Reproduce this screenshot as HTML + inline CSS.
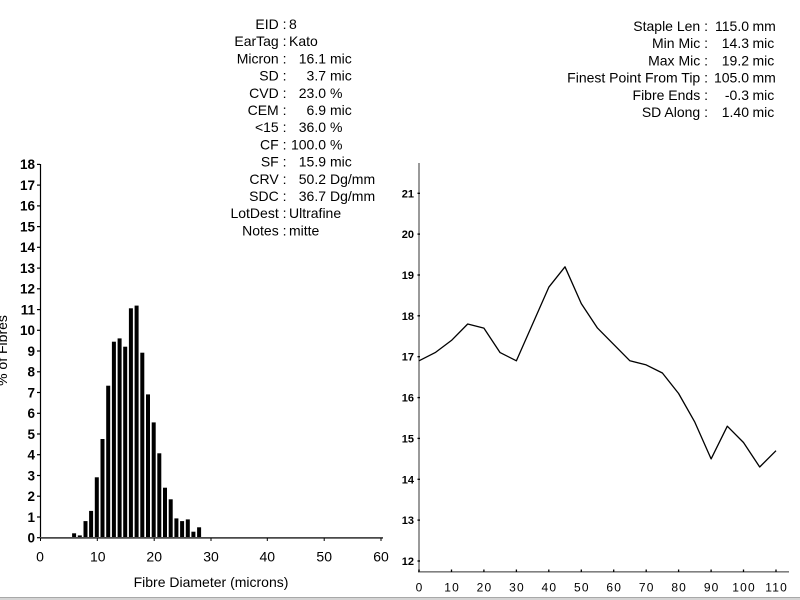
<!DOCTYPE html>
<html>
<head>
<meta charset="utf-8">
<style>
html,body{margin:0;padding:0;background:#fff;}
svg{display:block;}
text{font-family:"Liberation Sans",Arial,sans-serif;fill:#000;}
</style>
</head>
<body>
<svg width="800" height="600" viewBox="0 0 800 600" xmlns="http://www.w3.org/2000/svg">
<rect width="800" height="600" fill="#fff"/>

<!-- Left info block -->
<g font-size="14">
  <g text-anchor="end">
    <text x="286.5" y="29">EID :</text>
    <text x="286.5" y="46.2">EarTag :</text>
    <text x="286.5" y="63.4">Micron :</text>
    <text x="286.5" y="80.6">SD :</text>
    <text x="286.5" y="97.8">CVD :</text>
    <text x="286.5" y="115">CEM :</text>
    <text x="286.5" y="132.2">&lt;15 :</text>
    <text x="286.5" y="149.4">CF :</text>
    <text x="286.5" y="166.6">SF :</text>
    <text x="286.5" y="183.8">CRV :</text>
    <text x="286.5" y="201">SDC :</text>
    <text x="286.5" y="218.2">LotDest :</text>
    <text x="286.5" y="235.4">Notes :</text>
  </g>
  <text x="289" y="29">8</text>
  <text x="289" y="46.2">Kato</text>
  <text x="289" y="218.2">Ultrafine</text>
  <text x="289" y="235.4">mitte</text>
  <g text-anchor="end">
    <text x="326" y="63.4">16.1</text>
    <text x="326" y="80.6">3.7</text>
    <text x="326" y="97.8">23.0</text>
    <text x="326" y="115">6.9</text>
    <text x="326" y="132.2">36.0</text>
    <text x="326" y="149.4">100.0</text>
    <text x="326" y="166.6">15.9</text>
    <text x="326" y="183.8">50.2</text>
    <text x="326" y="201">36.7</text>
  </g>
  <text x="330" y="63.4">mic</text>
  <text x="330" y="80.6">mic</text>
  <text x="330" y="97.8">%</text>
  <text x="330" y="115">mic</text>
  <text x="330" y="132.2">%</text>
  <text x="330" y="149.4">%</text>
  <text x="330" y="166.6">mic</text>
  <text x="330" y="183.8">Dg/mm</text>
  <text x="330" y="201">Dg/mm</text>
</g>

<!-- Right info block -->
<g font-size="14">
  <g text-anchor="end">
    <text x="708" y="31">Staple Len :</text>
    <text x="708" y="48.2">Min Mic :</text>
    <text x="708" y="65.4">Max Mic :</text>
    <text x="708" y="82.6">Finest Point From Tip :</text>
    <text x="708" y="99.8">Fibre Ends :</text>
    <text x="708" y="117">SD Along :</text>
    <text x="749" y="31">115.0</text>
    <text x="749" y="48.2">14.3</text>
    <text x="749" y="65.4">19.2</text>
    <text x="749" y="82.6">105.0</text>
    <text x="749" y="99.8">-0.3</text>
    <text x="749" y="117">1.40</text>
  </g>
  <text x="752.5" y="31">mm</text>
  <text x="752.5" y="48.2">mic</text>
  <text x="752.5" y="65.4">mic</text>
  <text x="752.5" y="82.6">mm</text>
  <text x="752.5" y="99.8">mic</text>
  <text x="752.5" y="117">mic</text>
</g>

<!-- Left chart: histogram -->
<g>
  <line x1="40.5" y1="164" x2="40.5" y2="538" stroke="#000" stroke-width="1.2"/>
  <g stroke="#000" stroke-width="1.2">
    <line x1="37" y1="537.7" x2="40" y2="537.7"/>
    <line x1="37" y1="517" x2="40" y2="517"/>
    <line x1="37" y1="496.2" x2="40" y2="496.2"/>
    <line x1="37" y1="475.5" x2="40" y2="475.5"/>
    <line x1="37" y1="454.7" x2="40" y2="454.7"/>
    <line x1="37" y1="434" x2="40" y2="434"/>
    <line x1="37" y1="413.3" x2="40" y2="413.3"/>
    <line x1="37" y1="392.5" x2="40" y2="392.5"/>
    <line x1="37" y1="371.8" x2="40" y2="371.8"/>
    <line x1="37" y1="351" x2="40" y2="351"/>
    <line x1="37" y1="330.3" x2="40" y2="330.3"/>
    <line x1="37" y1="309.6" x2="40" y2="309.6"/>
    <line x1="37" y1="288.8" x2="40" y2="288.8"/>
    <line x1="37" y1="268.1" x2="40" y2="268.1"/>
    <line x1="37" y1="247.3" x2="40" y2="247.3"/>
    <line x1="37" y1="226.6" x2="40" y2="226.6"/>
    <line x1="37" y1="205.9" x2="40" y2="205.9"/>
    <line x1="37" y1="185.1" x2="40" y2="185.1"/>
    <line x1="37" y1="164.4" x2="40" y2="164.4"/>
  </g>
  <g font-size="13.5" font-weight="bold" text-anchor="end">
    <text x="35" y="542.5">0</text>
    <text x="35" y="521.8">1</text>
    <text x="35" y="501">2</text>
    <text x="35" y="480.3">3</text>
    <text x="35" y="459.5">4</text>
    <text x="35" y="438.8">5</text>
    <text x="35" y="418.1">6</text>
    <text x="35" y="397.3">7</text>
    <text x="35" y="376.6">8</text>
    <text x="35" y="355.8">9</text>
    <text x="35" y="335.1">10</text>
    <text x="35" y="314.4">11</text>
    <text x="35" y="293.6">12</text>
    <text x="35" y="272.9">13</text>
    <text x="35" y="252.1">14</text>
    <text x="35" y="231.4">15</text>
    <text x="35" y="210.7">16</text>
    <text x="35" y="189.9">17</text>
    <text x="35" y="169.2">18</text>
  </g>
  <g fill="#000">
    <rect x="72.1" y="533.3" width="4" height="4.4"/>
    <rect x="77.8" y="535.4" width="4" height="2.3"/>
    <rect x="83.5" y="521.1" width="4" height="16.6"/>
    <rect x="89.1" y="510.9" width="4" height="26.8"/>
    <rect x="94.8" y="477.3" width="4" height="60.4"/>
    <rect x="100.5" y="439" width="4" height="98.7"/>
    <rect x="106.2" y="385.7" width="4" height="152"/>
    <rect x="111.9" y="341.7" width="4" height="196"/>
    <rect x="117.6" y="338.4" width="4" height="199.3"/>
    <rect x="123.2" y="346.7" width="4" height="191"/>
    <rect x="128.9" y="308.3" width="4" height="229.4"/>
    <rect x="134.6" y="305.6" width="4" height="232.1"/>
    <rect x="140.3" y="352.7" width="4" height="185"/>
    <rect x="146" y="394.4" width="4" height="143.3"/>
    <rect x="151.7" y="422.4" width="4" height="115.3"/>
    <rect x="157.3" y="453.3" width="4" height="84.4"/>
    <rect x="163" y="487.7" width="4" height="50"/>
    <rect x="168.7" y="499.3" width="4" height="38.4"/>
    <rect x="174.4" y="518.4" width="4" height="19.3"/>
    <rect x="180.1" y="521.1" width="4" height="16.6"/>
    <rect x="185.8" y="519.4" width="4" height="18.3"/>
    <rect x="191.4" y="531.7" width="4" height="6"/>
    <rect x="197.1" y="527.3" width="4" height="10.4"/>
  </g>
  <line x1="40" y1="537.9" x2="383" y2="537.9" stroke="#4a4a4a" stroke-width="1.8"/>
  <g stroke="#000" stroke-width="1">
    <line x1="40.5" y1="538" x2="40.5" y2="541"/>
    <line x1="97.3" y1="538" x2="97.3" y2="541"/>
    <line x1="154.2" y1="538" x2="154.2" y2="541"/>
    <line x1="211" y1="538" x2="211" y2="541"/>
    <line x1="267.3" y1="538" x2="267.3" y2="541"/>
    <line x1="324.2" y1="538" x2="324.2" y2="541"/>
    <line x1="381" y1="538" x2="381" y2="541"/>
  </g>
  <g font-size="14" text-anchor="middle">
    <text x="40" y="561.5">0</text>
    <text x="97.8" y="561.5">10</text>
    <text x="154.2" y="561.5">20</text>
    <text x="211" y="561.5">30</text>
    <text x="267.3" y="561.5">40</text>
    <text x="324.2" y="561.5">50</text>
    <text x="381" y="561.5">60</text>
  </g>
  <text x="211" y="587" font-size="14" text-anchor="middle">Fibre Diameter (microns)</text>
  <text transform="translate(7,350.5) rotate(-90)" font-size="14" text-anchor="middle">% of Fibres</text>
</g>

<!-- Right chart: line -->
<g>
  <line x1="419" y1="163" x2="419" y2="572" stroke="#808080" stroke-width="1.6"/>
  <line x1="418" y1="571.8" x2="789" y2="571.8" stroke="#808080" stroke-width="1.6"/>
  <g stroke="#000" stroke-width="1.3">
    <line x1="417.5" y1="561" x2="420" y2="561"/>
    <line x1="417.5" y1="520.1" x2="420" y2="520.1"/>
    <line x1="417.5" y1="479.3" x2="420" y2="479.3"/>
    <line x1="417.5" y1="438.4" x2="420" y2="438.4"/>
    <line x1="417.5" y1="397.6" x2="420" y2="397.6"/>
    <line x1="417.5" y1="356.7" x2="420" y2="356.7"/>
    <line x1="417.5" y1="315.8" x2="420" y2="315.8"/>
    <line x1="417.5" y1="275" x2="420" y2="275"/>
    <line x1="417.5" y1="234.1" x2="420" y2="234.1"/>
    <line x1="417.5" y1="193.3" x2="420" y2="193.3"/>
  </g>
  <g stroke="#000" stroke-width="1.3">
    <line x1="419" y1="569.5" x2="419" y2="572"/>
    <line x1="451.5" y1="569.5" x2="451.5" y2="572"/>
    <line x1="483.9" y1="569.5" x2="483.9" y2="572"/>
    <line x1="516.4" y1="569.5" x2="516.4" y2="572"/>
    <line x1="548.8" y1="569.5" x2="548.8" y2="572"/>
    <line x1="581.3" y1="569.5" x2="581.3" y2="572"/>
    <line x1="613.7" y1="569.5" x2="613.7" y2="572"/>
    <line x1="646.2" y1="569.5" x2="646.2" y2="572"/>
    <line x1="678.6" y1="569.5" x2="678.6" y2="572"/>
    <line x1="711.1" y1="569.5" x2="711.1" y2="572"/>
    <line x1="743.5" y1="569.5" x2="743.5" y2="572"/>
    <line x1="776" y1="569.5" x2="776" y2="572"/>
  </g>
  <g font-size="11" font-weight="bold" text-anchor="end">
    <text x="414" y="565">12</text>
    <text x="414" y="524.1">13</text>
    <text x="414" y="483.3">14</text>
    <text x="414" y="442.4">15</text>
    <text x="414" y="401.6">16</text>
    <text x="414" y="360.7">17</text>
    <text x="414" y="319.8">18</text>
    <text x="414" y="279">19</text>
    <text x="414" y="238.1">20</text>
    <text x="414" y="197.3">21</text>
  </g>
  <g font-size="12" text-anchor="middle" letter-spacing="1.2">
    <text x="419.6" y="591.5">0</text>
    <text x="452.1" y="591.5">10</text>
    <text x="484.5" y="591.5">20</text>
    <text x="517" y="591.5">30</text>
    <text x="549.4" y="591.5">40</text>
    <text x="581.9" y="591.5">50</text>
    <text x="614.3" y="591.5">60</text>
    <text x="646.8" y="591.5">70</text>
    <text x="679.2" y="591.5">80</text>
    <text x="711.7" y="591.5">90</text>
    <text x="744.1" y="591.5">100</text>
    <text x="776.6" y="591.5">110</text>
  </g>
  <polyline fill="none" stroke="#000" stroke-width="1.3" stroke-linejoin="round"
    points="419,360.8 435.2,352.6 451.5,340.4 467.7,324 483.9,328.1 500.1,352.6 516.4,360.8 532.6,324 548.8,287.2 565,266.8 581.3,303.6 597.5,328.1 613.7,344.4 629.9,360.8 646.2,364.9 662.4,373 678.6,393.5 694.8,422.1 711.1,458.9 727.3,426.2 743.5,442.5 759.7,467 776,450.7"/>
</g>

<rect x="0" y="597" width="800" height="3" fill="#d4d4d4"/>
<line x1="0" y1="597.5" x2="800" y2="597.5" stroke="#a8a8a8" stroke-width="1"/>
</svg>
</body>
</html>
